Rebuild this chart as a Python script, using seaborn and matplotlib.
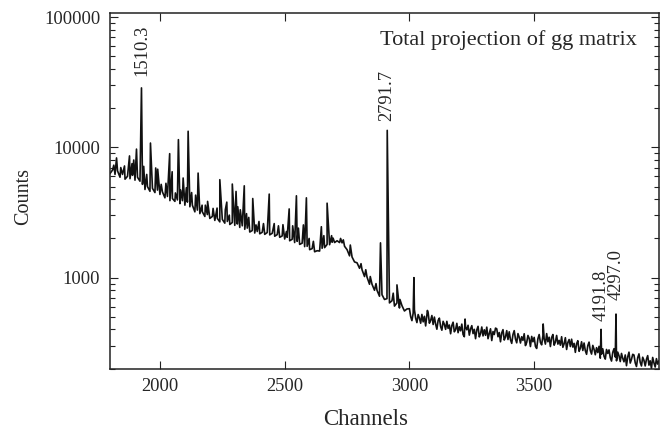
import numpy as np
import pandas as pd
import seaborn as sns
from matplotlib import pyplot as plt
from matplotlib.ticker import LogLocator, NullFormatter

# continuum, every 10 channels from 1800 to 2990
bg_channels = np.arange(1800, 3000, 10)
bg_counts = [
    6300, 6700, 6200, 6600, 5900, 6200, 5700, 6000, 5750, 6100,   # 1800
    5600, 5900, 5500, 5200, 4750, 5000, 4600, 4850, 4500, 4700,   # 1900
    4350, 4550, 4100, 4200, 3900, 4050, 3850, 3950, 3700, 3900,   # 2000
    3600, 3800, 3500, 3600, 3200, 3300, 3100, 3200, 2950, 3050,   # 2100
    2850, 2950, 2750, 2850, 2680, 2800, 2620, 2700, 2560, 2650,   # 2200
    2520, 2580, 2430, 2500, 2350, 2400, 2240, 2300, 2200, 2260,   # 2300
    2170, 2230, 2150, 2220, 2130, 2190, 2080, 2140, 2040, 2090,   # 2400
    1980, 2040, 1920, 1970, 1860, 1900, 1800, 1840, 1730, 1740,   # 2500
    1640, 1670, 1580, 1610, 1600, 1680, 1700, 1800, 1790, 1870,   # 2600
    1860, 1920, 1860, 1850, 1740, 1640, 1470, 1440, 1320, 1300,   # 2700
    1180, 1150, 1020, 1010, 890, 890, 800, 800, 720, 740,         # 2800
    680, 690, 640, 665, 605, 640, 585, 610, 555, 575,             # 2900
]

# noisy tail, every 5 channels from 3000 to 4000
tail_channels = np.arange(3000, 4001, 5)
tail_counts = [
    578, 502, 468, 535, 567, 488, 452, 521, 490, 447,   # 3000
    522, 458, 505, 426, 512, 538, 447, 470, 512, 437,   # 3050
    498, 440, 402, 470, 489, 421, 395, 462, 438, 401,   # 3100
    462, 408, 433, 371, 429, 455, 384, 399, 446, 378,   # 3150
    420, 391, 440, 366, 352, 419, 398, 431, 362, 404,   # 3200
    428, 372, 401, 340, 397, 423, 351, 371, 418, 357,   # 3250
    398, 361, 417, 340, 373, 405, 329, 386, 366, 410,   # 3300
    405, 352, 379, 322, 377, 399, 332, 350, 392, 335,   # 3350
    384, 334, 313, 366, 392, 338, 316, 372, 349, 315,   # 3400
    352, 330, 371, 301, 318, 360, 342, 296, 354, 322,   # 3450
    348, 297, 286, 340, 366, 318, 305, 358, 339, 309,   # 3500
    372, 322, 349, 296, 347, 366, 303, 320, 360, 309,   # 3550
    330, 303, 352, 292, 311, 346, 281, 318, 335, 296,   # 3600
    337, 293, 313, 267, 311, 328, 272, 287, 322, 276,   # 3650
    315, 275, 258, 301, 320, 276, 259, 302, 282, 256,   # 3700
    290, 266, 297, 241, 259, 284, 249, 237, 281, 262,   # 3750
    279, 243, 229, 267, 285, 246, 230, 268, 251, 227,   # 3800
    262, 240, 226, 255, 211, 247, 268, 221, 236, 258,   # 3850
    255, 222, 208, 243, 260, 224, 210, 245, 232, 210,   # 3900
    236, 252, 213, 230, 201, 244, 222, 206, 239, 217,   # 3950
    230,                                                # 4000
]

# peak tops
peak_ch = [1815, 1826, 1843, 1858, 1878, 1888, 1895, 1906, 1926, 1935,
           1947, 1962, 1983, 1991, 2005, 2024, 2039, 2049, 2062, 2074,
           2083, 2093, 2106, 2113, 2127, 2143, 2153, 2169, 2182, 2191,
           2213, 2229, 2240, 2248, 2262, 2268, 2278, 2290, 2305, 2312,
           2322, 2338, 2347, 2356, 2372, 2385, 2397, 2415, 2438, 2458,
           2475, 2493, 2507, 2518, 2532, 2547, 2555, 2575, 2587, 2598,
           2615, 2647, 2657, 2670, 2688, 2694, 2724, 2735, 2763, 2806,
           2825, 2843, 2866, 2884, 2911, 2935, 2950, 2962, 3018, 3072,
           3223, 3536, 3768, 3828]
peak_counts = [7300, 8300, 7000, 7200, 8600, 7500, 8000, 9700, 28600, 7150,
               6200, 10800, 6950, 6800, 5200, 5300, 8950, 6500, 4470, 11460,
               4700, 5820, 4900, 13290, 4500, 4300, 6350, 3600, 3600, 3850,
               3400, 3420, 5650, 3300, 3320, 3800, 3020, 5230, 4590, 3500,
               3320, 5070, 3100, 2900, 4050, 2540, 2700, 2600, 4380, 2600,
               2500, 2550, 2260, 3370, 2500, 4250, 2400, 2540, 4100, 2000,
               1900, 2460, 2100, 3730, 2100, 2010, 2000, 1950, 1780, 1280,
               1150, 1020, 900, 1850, 13500, 760, 880, 680, 1000, 560,
               481, 441, 401, 525]

# energy labels (keV) and where they sit
label_text = ["1510.3", "2791.7", "4191.8", "4297.0"]
label_ch = [1926, 2911, 3768, 3828]
label_y = [35000, 15800, 464, 675]

spec = pd.concat([
    pd.DataFrame({"channel": bg_channels, "counts": bg_counts}),
    pd.DataFrame({"channel": tail_channels, "counts": tail_counts}),
    pd.DataFrame({"channel": peak_ch, "counts": peak_counts}),
]).sort_values("channel")

sns.set_theme(style="ticks")
plt.rcParams['font.family'] = ['Liberation Serif', 'DejaVu Serif']

fig = plt.figure(figsize=(6.71, 4.32), dpi=100)
ax = fig.add_axes([0.164, 0.1465, 0.818, 0.824])

sns.lineplot(data=spec, x="channel", y="counts", ax=ax, color="#111111",
             lw=1.2, estimator=None)

ax.set_yscale("log")
ax.set_xlim(1800, 4000)
ax.set_ylim(200, 108000)
ax.set_xticks([2000, 2500, 3000, 3500])
ax.set_yticks([1000, 10000, 100000])
ax.set_yticklabels(["1000", "10000", "100000"])
ax.yaxis.set_minor_locator(LogLocator(base=10, subs=np.arange(2, 10)))
ax.yaxis.set_minor_formatter(NullFormatter())

ax.tick_params(which="both", direction="in", top=True, right=True,
               labelsize=13.3, color="#222222", width=0.8, pad=7)
ax.tick_params(which="major", length=6)
ax.tick_params(which="minor", length=3.5)
for s in ax.spines.values():
    s.set_linewidth(1.1)
    s.set_color("#222222")

ax.set_xlabel("Channels", fontsize=16.5)
ax.set_ylabel("Counts", fontsize=14.5)
ax.xaxis.set_label_coords(0.466, -0.144)
ax.xaxis.label.set_va("center")
ax.yaxis.set_label_coords(-0.157, 0.485)
ax.yaxis.label.set_va("center")

for t, c, y in zip(label_text, label_ch, label_y):
    ax.text(c, y, t, rotation=90, ha="center", va="bottom", fontsize=13.3)

ax.text(0.96, 0.923, "Total projection of gg matrix", transform=ax.transAxes,
        ha="right", va="center", fontsize=16)

plt.savefig("out.png", dpi=100)
